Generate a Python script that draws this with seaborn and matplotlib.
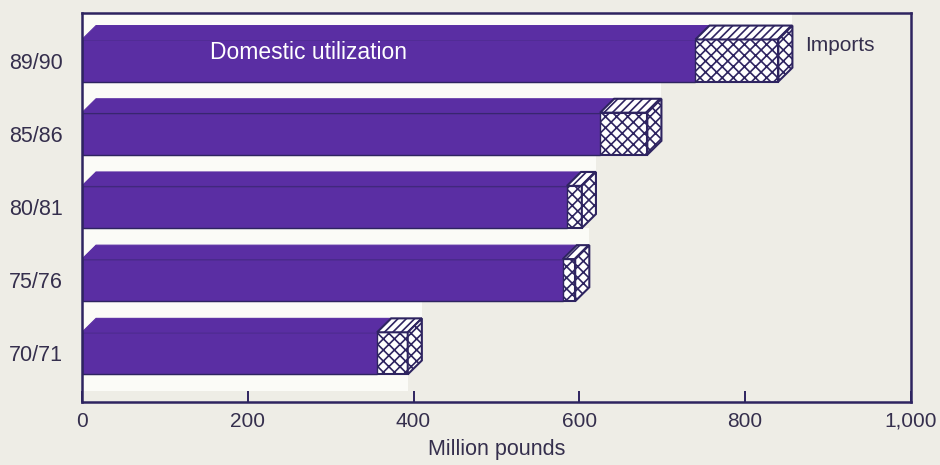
import matplotlib
matplotlib.use("Agg")
import matplotlib.pyplot as plt
from matplotlib.patches import Polygon, Rectangle
import seaborn as sns

# Domestic utilization and imports, million pounds
years = ["89/90", "85/86", "80/81", "75/76", "70/71"]
domestic = [740, 625, 585, 580, 356]
imports = [100, 57, 18, 15, 37]
x_ticks = [0, 200, 400, 600, 800, 1000]
x_tick_labels = ["0", "200", "400", "600", "800", "1,000"]

totals = [d + m for d, m in zip(domestic, imports)]

PURPLE = "#5a2ea3"
NAVY = "#2e2460"
TEXT = "#352f4d"
BG = "#eeede6"
BAND = "#fbfbf7"

sns.set_theme(style="white")
plt.rcParams["font.family"] = ["Liberation Sans", "DejaVu Sans"]
plt.rcParams["hatch.linewidth"] = 1.2

fig = plt.figure(figsize=(9.4, 4.65), dpi=100, facecolor=BG)
ax = fig.add_axes([0.0872, 0.1355, 0.9691 - 0.0872, 0.972 - 0.1355])
ax.set_facecolor(BG)

front_h = 0.575   # front face height (category units)
dx = 17.0         # depth offset along x (data units)
dy = 0.19         # depth offset along y (category units)
band = 0.23       # light strip above each bar

# light floor strips behind each bar
for i, t in enumerate(totals):
    ft = i - front_h / 2
    ax.add_patch(Rectangle((0, ft - dy - band), t + dx, band + dy,
                           facecolor=BAND, edgecolor="none", zorder=0.5))
last = len(totals) - 1
ax.add_patch(Rectangle((0, last + front_h / 2), totals[last], band,
                       facecolor=BAND, edgecolor="none", zorder=0.5))

# imports front face (stacked total) then domestic over it
sns.barplot(x=totals, y=years, orient="h", color="white", saturation=1,
            width=front_h, edgecolor=NAVY, linewidth=1.5, hatch="xxx",
            ax=ax, zorder=2)
sns.barplot(x=domestic, y=years, orient="h", color=PURPLE, saturation=1,
            width=front_h, edgecolor=NAVY, linewidth=1.0, ax=ax, zorder=2.5)

# 3-D faces: purple top of domestic bar, hatched top and side of imports box
for i, (d, t) in enumerate(zip(domestic, totals)):
    ft = i - front_h / 2
    fb = i + front_h / 2
    ax.add_patch(Polygon([(0, ft), (d, ft), (d + dx, ft - dy), (dx, ft - dy)],
                         closed=True, facecolor=PURPLE, edgecolor=PURPLE,
                         linewidth=0.8, zorder=3))
    ax.add_patch(Polygon([(d, ft), (t, ft), (t + dx, ft - dy), (d + dx, ft - dy)],
                         closed=True, facecolor="white", edgecolor=NAVY,
                         hatch="////", linewidth=1.5, zorder=3.2))
    ax.add_patch(Polygon([(t, ft), (t, fb), (t + dx, fb - dy), (t + dx, ft - dy)],
                         closed=True, facecolor="white", edgecolor=NAVY,
                         hatch="xxx", linewidth=1.5, zorder=3.2))

ax.text(273, -0.116, "Domestic utilization", color="white",
        fontsize=16.5, ha="center", va="center", zorder=5)
ax.text(872, -0.21, "Imports", color=TEXT, fontsize=15,
        ha="left", va="center", zorder=5)

ax.set_xlim(0, 1000)
ax.set_ylim(4.665, -0.649)
ax.set_xticks(x_ticks)
ax.set_xticklabels(x_tick_labels)
ax.set_ylabel("")
ax.set_xlabel("Million pounds", fontsize=15.5, color=TEXT, labelpad=6)

ax.tick_params(axis="x", direction="in", length=8, width=1.4, color=NAVY,
               labelsize=15, labelcolor=TEXT, pad=7, bottom=True)
ax.tick_params(axis="y", length=0, labelsize=15.5, labelcolor=TEXT, pad=14)

for s in ax.spines.values():
    s.set_visible(True)
    s.set_color(NAVY)
    s.set_linewidth(1.8)
    s.set_zorder(6)

fig.savefig("out.png", dpi=100, facecolor=BG)
